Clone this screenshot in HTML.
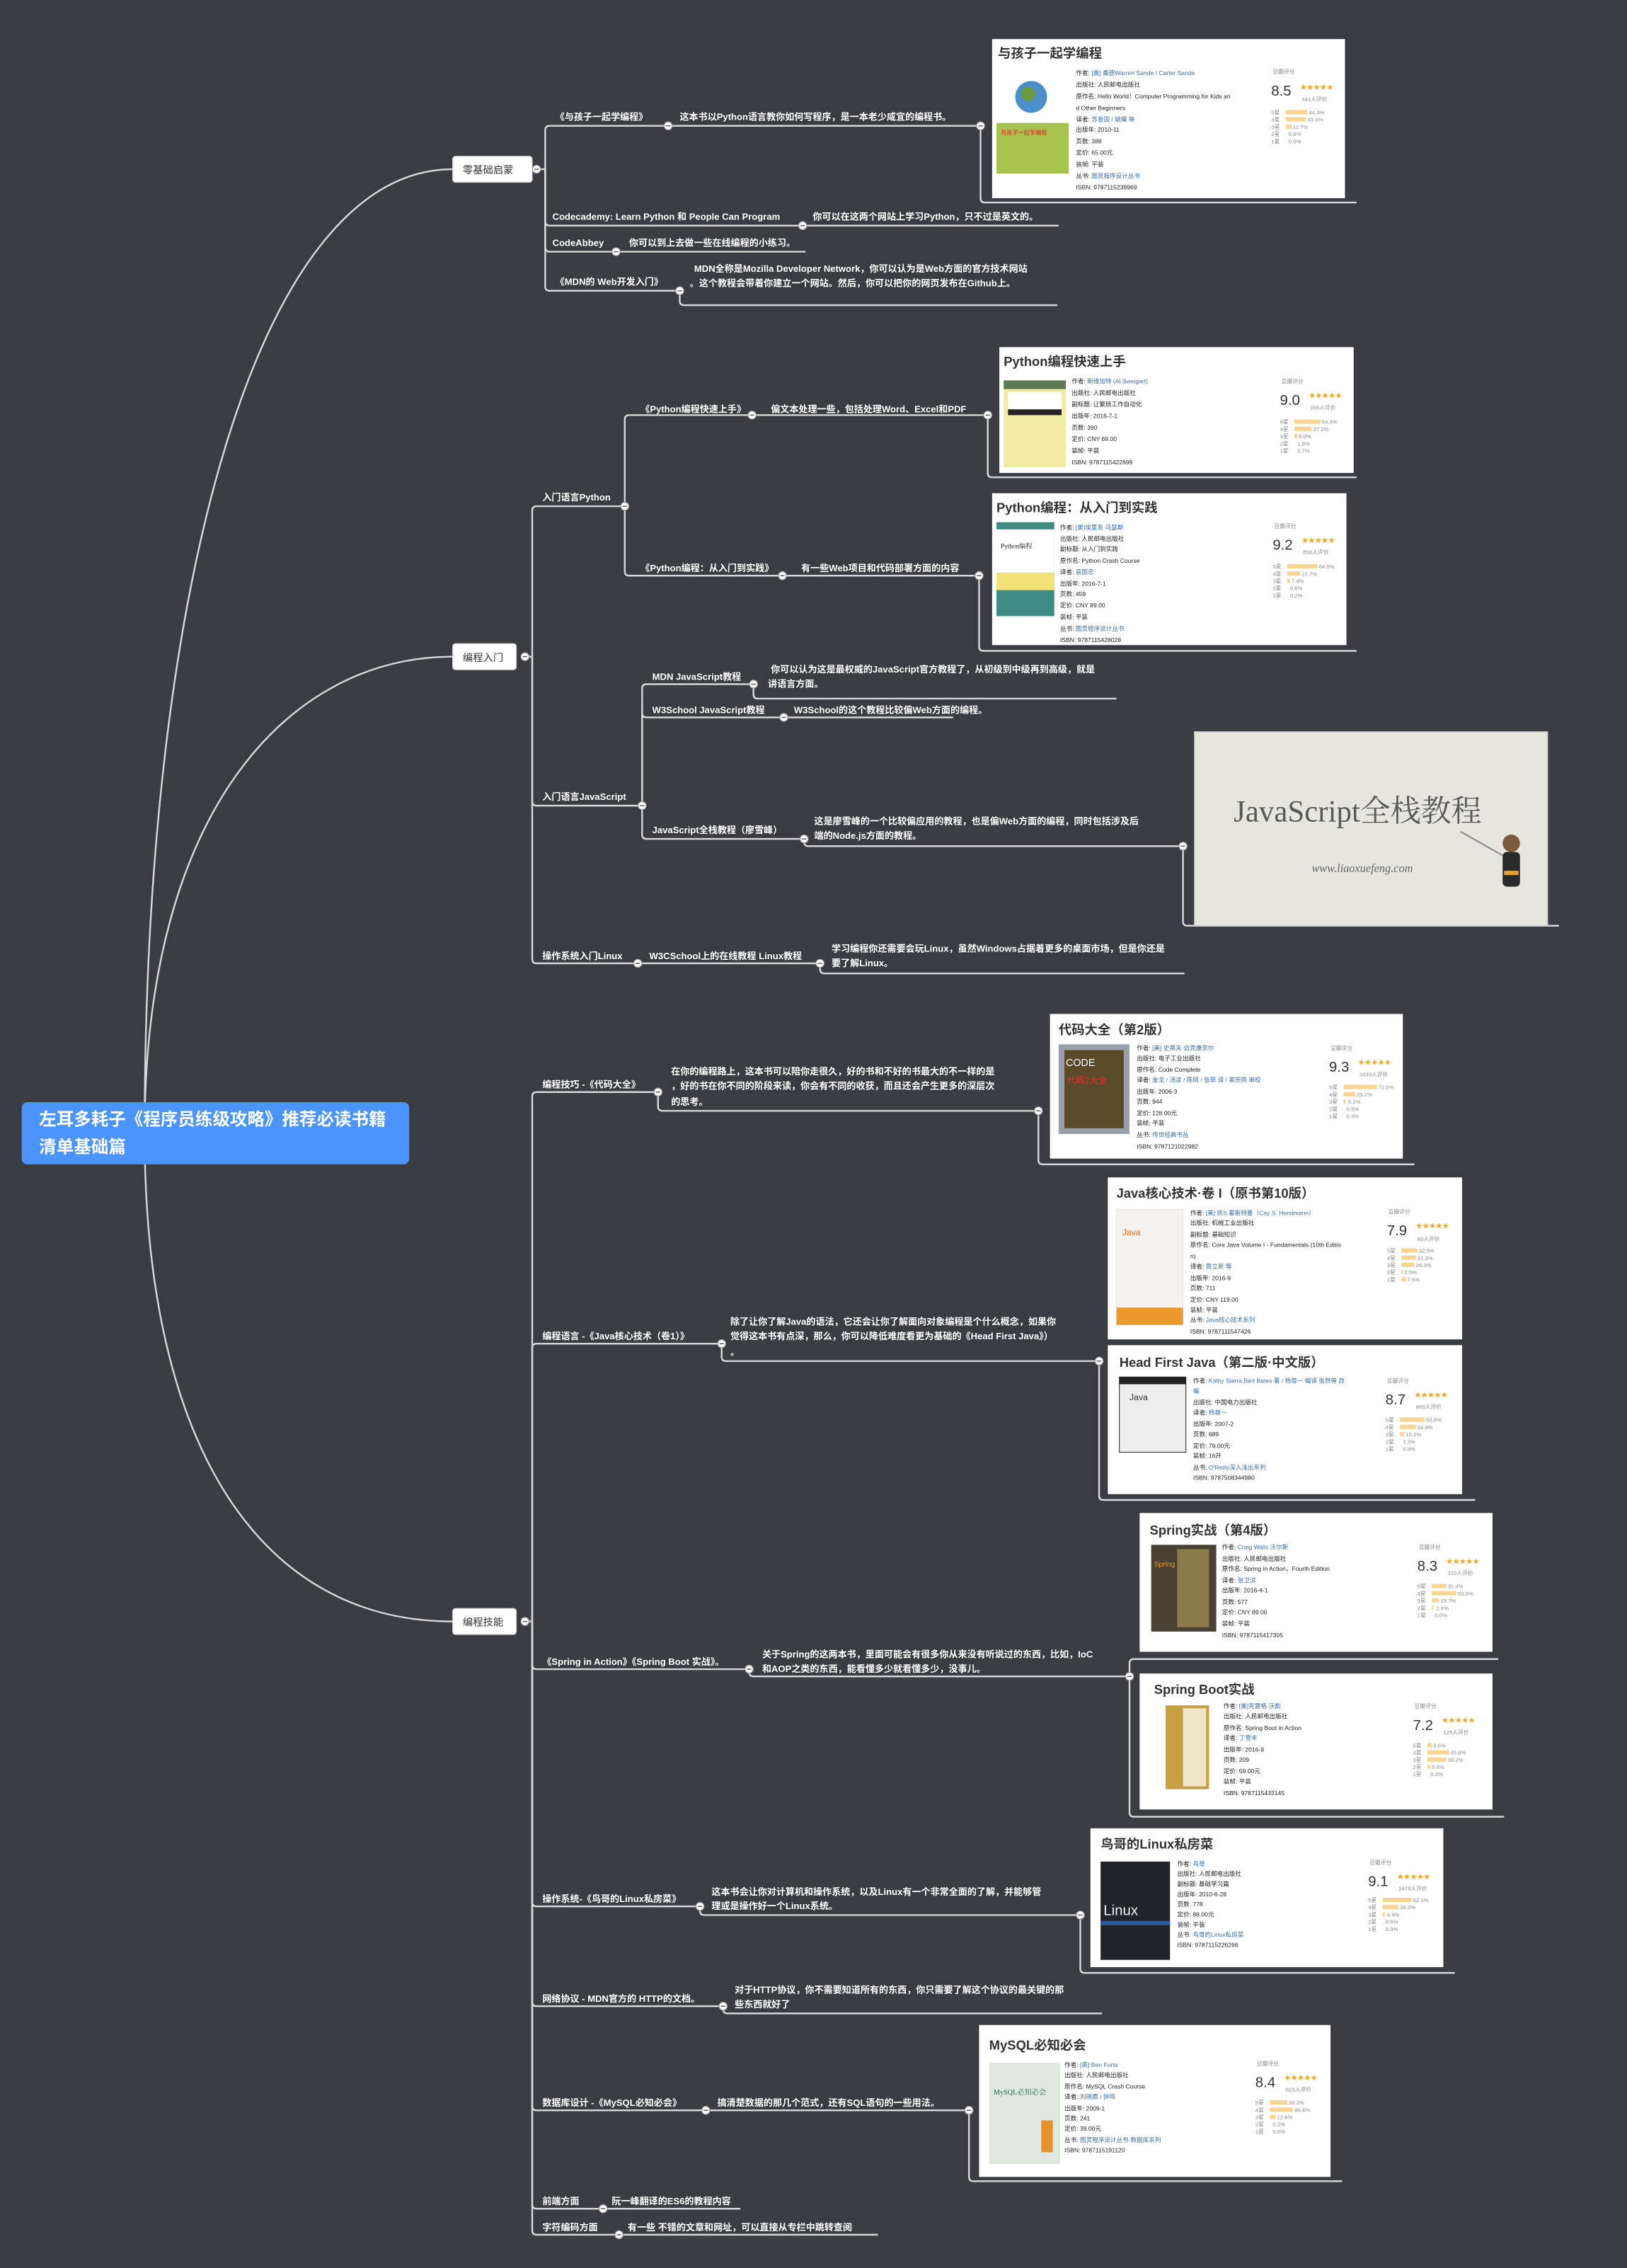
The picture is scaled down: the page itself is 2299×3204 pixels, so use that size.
<!DOCTYPE html>
<html><head><meta charset="utf-8">
<style>
html,body{margin:0;padding:0;background:#393c41;}
svg{display:block;}
text{font-family:"Liberation Sans","Noto Sans CJK SC",sans-serif;}
text.sf{font-family:"Liberation Serif","Noto Serif CJK SC",serif;}
.l{fill:#fff;font-size:6.4px;font-weight:bold;}
.ln{stroke:#d6d6d6;stroke-width:1.2;fill:none;}
.c{fill:#fff;stroke:#9a9a9a;stroke-width:0.6;}
.ct{font-size:9px;fill:#333;font-weight:bold;}
.i{font-size:4.2px;fill:#222;}
.b{fill:#3a6ea5;}
.g{font-size:3.8px;fill:#888;}
.s{font-size:10px;fill:#333;}
.st{font-size:4.6px;fill:#f5a623;}
.bar{fill:#f8d592;}
</style></head>
<body>
<svg width="2299" height="3204" viewBox="0 0 1125 1568" preserveAspectRatio="none" xmlns="http://www.w3.org/2000/svg">
<defs>
<g id="cb"><circle r="2.8" class="c"/><line x1="-1.5" x2="1.5" y1="0" y2="0" stroke="#555" stroke-width="0.7"/></g>
</defs>
<rect width="1125" height="1568" fill="#393c41"/>

<path class="ln" d="M100 783 C100 400,180 117,313 117"/>
<path class="ln" d="M100 783 C100 560,200 454,313 454"/>
<path class="ln" d="M100 783 C100 1000,180 1121,313 1121"/>

<rect x="15" y="762" width="268" height="43" rx="4" fill="#4a94fb"/>
<text x="27" y="778" fill="#fff" font-size="12" font-weight="bold">左耳多耗子《程序员练级攻略》推荐必读书籍</text>
<text x="27" y="797" fill="#fff" font-size="12" font-weight="bold">清单基础篇</text>

<!-- ===== Section 1 ===== -->
<path class="ln" d="M371 117 H377"/>
<path class="ln" d="M377 117 V90 Q377 87 380 87 H678"/>
<path class="ln" d="M377 117 V153 Q377 156 380 156 H732"/>
<path class="ln" d="M377 117 V171 Q377 174 380 174 H557"/>
<path class="ln" d="M377 117 V198 Q377 201 380 201 H470"/>
<path class="ln" d="M470 201 V208 Q470 211 473 211 H731"/>
<path class="ln" d="M678 87 V137 Q678 140 681 140 H938"/>
<rect x="313" y="108" width="55" height="18" rx="2" fill="#fff" stroke="#ccc" stroke-width="0.6"/>
<text x="320" y="120" font-size="7" fill="#333">零基础启蒙</text>
<use href="#cb" x="371" y="117"/>
<text x="384" y="83" class="l">《与孩子一起学编程》</text>
<text x="470" y="83" class="l">这本书以Python语言教你如何写程序，是一本老少咸宜的编程书。</text>
<use href="#cb" x="462" y="87"/><use href="#cb" x="678" y="87"/>
<text x="382" y="152" class="l">Codecademy: Learn Python 和 People Can Program</text>
<text x="562" y="152" class="l">你可以在这两个网站上学习Python，只不过是英文的。</text>
<use href="#cb" x="555" y="156"/>
<text x="382" y="170" class="l">CodeAbbey</text>
<text x="435" y="170" class="l">你可以到上去做一些在线编程的小练习。</text>
<use href="#cb" x="426" y="174"/>
<text x="384" y="197" class="l">《MDN的 Web开发入门》</text>
<text x="480" y="188" class="l">MDN全称是Mozilla Developer Network，你可以认为是Web方面的官方技术网站</text>
<text x="477" y="198" class="l">。这个教程会带着你建立一个网站。然后，你可以把你的网页发布在Github上。</text>
<use href="#cb" x="470" y="201"/>

<g transform="translate(686,27)">
<rect width="244" height="110" fill="#fff"/>
<text x="4" y="13" class="ct">与孩子一起学编程</text>
<circle cx="27" cy="40" r="11" fill="#4a8fc9"/><circle cx="25" cy="38" r="5" fill="#6a9a40"/>
<rect x="3" y="58" width="50" height="35" fill="#a7c24e"/>
<text x="6" y="66" font-size="4" fill="#d22">与孩子一起学编程</text>
<text x="58" y="25" class="i">作者: <tspan class="b">[美] 桑德Warren Sande / Carter Sande</tspan></text>
<text x="58" y="33" class="i">出版社: 人民邮电出版社</text>
<text x="58" y="41" class="i">原作名: Hello World！Computer Programming for Kids an</text>
<text x="58" y="49" class="i">d Other Beginners</text>
<text x="58" y="57" class="i">译者: <tspan class="b">苏金国 / 姚曜 等</tspan></text>
<text x="58" y="64" class="i">出版年: 2010-11</text>
<text x="58" y="72" class="i">页数: 388</text>
<text x="58" y="80" class="i">定价: 65.00元</text>
<text x="58" y="88" class="i">装帧: 平装</text>
<text x="58" y="96" class="i">丛书: <tspan class="b">图灵程序设计丛书</tspan></text>
<text x="58" y="104" class="i">ISBN: 9787115239969</text>
<text x="194" y="24" class="g">豆瓣评分</text>
<text x="193" y="39" class="s">8.5</text><text x="213" y="35" class="st">★★★★★</text>
<text x="214" y="43" class="g b">341人评价</text>
<text x="193" y="52" class="g">5星</text><rect x="203" y="49" width="15" height="3" class="bar"/><text x="219" y="52" class="g">44.3%</text>
<text x="193" y="57" class="g">4星</text><rect x="203" y="54" width="14" height="3" class="bar"/><text x="218" y="57" class="g">43.4%</text>
<text x="193" y="62" class="g">3星</text><rect x="203" y="59" width="4" height="3" class="bar"/><text x="208" y="62" class="g">11.7%</text>
<text x="193" y="67" class="g">2星</text><text x="205" y="67" class="g">0.6%</text>
<text x="193" y="72" class="g">1星</text><text x="205" y="72" class="g">0.0%</text>
</g>

<!-- ===== Section 2 ===== -->
<path class="ln" d="M363 454 H368"/>
<path class="ln" d="M368 454 V353 Q368 350 371 350 H432"/>
<path class="ln" d="M368 454 V554 Q368 557 371 557 H444"/>
<path class="ln" d="M368 454 V663 Q368 666 371 666 H567"/>
<path class="ln" d="M567 666 V670 Q567 673 570 673 H819"/>
<path class="ln" d="M432 350 V290 Q432 287 435 287 H683"/>
<path class="ln" d="M432 350 V395 Q432 398 435 398 H677"/>
<path class="ln" d="M683 287 V327 Q683 330 686 330 H938"/>
<path class="ln" d="M677 398 V447 Q677 450 680 450 H938"/>
<path class="ln" d="M444 557 V476 Q444 473 447 473 H521"/>
<path class="ln" d="M521 473 V480 Q521 483 524 483 H772"/>
<path class="ln" d="M444 557 V493 Q444 496 447 496 H659"/>
<path class="ln" d="M444 557 V577 Q444 580 447 580 H556"/>
<path class="ln" d="M556 580 V582 Q556 585 559 585 H818"/>
<path class="ln" d="M818 585 V637 Q818 640 821 640 H1078"/>
<rect x="313" y="445" width="44" height="18" rx="2" fill="#fff" stroke="#ccc" stroke-width="0.6"/>
<text x="320" y="457" font-size="7" fill="#333">编程入门</text>
<use href="#cb" x="363" y="454"/>
<text x="375" y="346" class="l">入门语言Python</text><use href="#cb" x="432" y="350"/>
<text x="443" y="285" class="l">《Python编程快速上手》</text><use href="#cb" x="520" y="287"/>
<text x="533" y="285" class="l">偏文本处理一些，包括处理Word、Excel和PDF</text><use href="#cb" x="683" y="287"/>
<text x="443" y="395" class="l">《Python编程：从入门到实践》</text><use href="#cb" x="541" y="398"/>
<text x="554" y="395" class="l">有一些Web项目和代码部署方面的内容</text><use href="#cb" x="677" y="398"/>
<text x="375" y="553" class="l">入门语言JavaScript</text><use href="#cb" x="444" y="557"/>
<text x="451" y="470" class="l">MDN JavaScript教程</text><use href="#cb" x="521" y="473"/>
<text x="533" y="465" class="l">你可以认为这是最权威的JavaScript官方教程了，从初级到中级再到高级，就是</text>
<text x="531" y="475" class="l">讲语言方面。</text>
<text x="451" y="493" class="l">W3School JavaScript教程</text><use href="#cb" x="542" y="496"/>
<text x="549" y="493" class="l">W3School的这个教程比较偏Web方面的编程。</text>
<text x="451" y="576" class="l">JavaScript全栈教程（廖雪峰）</text><use href="#cb" x="556" y="580"/>
<text x="563" y="570" class="l">这是廖雪峰的一个比较偏应用的教程，也是偏Web方面的编程，同时包括涉及后</text>
<text x="563" y="580" class="l">端的Node.js方面的教程。</text><use href="#cb" x="818" y="585"/>
<text x="375" y="663" class="l">操作系统入门Linux</text><use href="#cb" x="441" y="666"/>
<text x="449" y="663" class="l">W3CSchool上的在线教程 Linux教程</text><use href="#cb" x="567" y="666"/>
<text x="575" y="658" class="l">学习编程你还需要会玩Linux，虽然Windows占据着更多的桌面市场，但是你还是</text>
<text x="575" y="668" class="l">要了解Linux。</text>

<g transform="translate(691,240)">
<rect width="245" height="87" fill="#fff"/>
<text x="3" y="13" class="ct">Python编程快速上手</text>
<rect x="3" y="23" width="43" height="60" fill="#f1eba4"/><rect x="3" y="23" width="43" height="6" fill="#5d7a52"/><rect x="6" y="31" width="37" height="12" fill="#fff"/><rect x="6" y="43" width="37" height="4" fill="#222"/>
<text x="50" y="25" class="i">作者: <tspan class="b">斯维加特 (Al Sweigart)</tspan></text>
<text x="50" y="33" class="i">出版社: 人民邮电出版社</text>
<text x="50" y="41" class="i">副标题: 让繁琐工作自动化</text>
<text x="50" y="49" class="i">出版年: 2016-7-1</text>
<text x="50" y="57" class="i">页数: 390</text>
<text x="50" y="65" class="i">定价: CNY 69.00</text>
<text x="50" y="73" class="i">装帧: 平装</text>
<text x="50" y="81" class="i">ISBN: 9787115422699</text>
<text x="195" y="25" class="g">豆瓣评分</text>
<text x="194" y="40" class="s">9.0</text><text x="214" y="35" class="st">★★★★★</text>
<text x="215" y="43" class="g b">285人评价</text>
<text x="194" y="53" class="g">5星</text><rect x="204" y="50" width="18" height="3" class="bar"/><text x="223" y="53" class="g">54.4%</text>
<text x="194" y="58" class="g">4星</text><rect x="204" y="55" width="12" height="3" class="bar"/><text x="217" y="58" class="g">37.2%</text>
<text x="194" y="63" class="g">3星</text><rect x="204" y="60" width="2" height="3" class="bar"/><text x="207" y="63" class="g">6.0%</text>
<text x="194" y="68" class="g">2星</text><text x="206" y="68" class="g">1.8%</text>
<text x="194" y="73" class="g">1星</text><text x="206" y="73" class="g">0.7%</text>
</g>

<g transform="translate(686,341)">
<rect width="245" height="105" fill="#fff"/>
<text x="3" y="13" class="ct">Python编程：从入门到实践</text>
<rect x="3" y="20" width="40" height="65" fill="#3f8c84"/><rect x="3" y="25" width="40" height="30" fill="#fff"/><rect x="3" y="55" width="40" height="12" fill="#f2e27a"/>
<text x="6" y="38" font-size="4.5" fill="#222" class="sf">Python编程</text>
<text x="47" y="25" class="i">作者: <tspan class="b">[美]埃里克·马瑟斯</tspan></text>
<text x="47" y="33" class="i">出版社: 人民邮电出版社</text>
<text x="47" y="40" class="i">副标题: 从入门到实践</text>
<text x="47" y="48" class="i">原作名: Python Crash Course</text>
<text x="47" y="56" class="i">译者: <tspan class="b">袁国忠</tspan></text>
<text x="47" y="64" class="i">出版年: 2016-7-1</text>
<text x="47" y="71" class="i">页数: 459</text>
<text x="47" y="79" class="i">定价: CNY 89.00</text>
<text x="47" y="87" class="i">装帧: 平装</text>
<text x="47" y="95" class="i">丛书: <tspan class="b">图灵程序设计丛书</tspan></text>
<text x="47" y="103" class="i">ISBN: 9787115428028</text>
<text x="195" y="24" class="g">豆瓣评分</text>
<text x="194" y="39" class="s">9.2</text><text x="214" y="34" class="st">★★★★★</text>
<text x="215" y="42" class="g b">858人评价</text>
<text x="194" y="52" class="g">5星</text><rect x="204" y="49" width="21" height="3" class="bar"/><text x="226" y="52" class="g">64.0%</text>
<text x="194" y="57" class="g">4星</text><rect x="204" y="54" width="9" height="3" class="bar"/><text x="214" y="57" class="g">27.7%</text>
<text x="194" y="62" class="g">3星</text><rect x="204" y="59" width="2" height="3" class="bar"/><text x="207" y="62" class="g">7.4%</text>
<text x="194" y="67" class="g">2星</text><text x="206" y="67" class="g">0.8%</text>
<text x="194" y="72" class="g">1星</text><text x="206" y="72" class="g">0.2%</text>
</g>

<rect x="826" y="506" width="244" height="134" fill="#e7e6dd" stroke="#c9d0cf" stroke-width="0.8"/>
<text x="853" y="568" class="sf" font-size="21" fill="#5a5a55">JavaScript全栈教程</text>
<text x="907" y="603" class="sf" font-style="italic" font-size="8" fill="#666">www.liaoxuefeng.com</text>
<line x1="1010" y1="575" x2="1040" y2="592" stroke="#888" stroke-width="1"/>
<circle cx="1045" cy="583" r="6" fill="#7a5a3a"/><rect x="1039" y="589" width="12" height="24" rx="3" fill="#2a2a2a"/><rect x="1040" y="602" width="10" height="3" fill="#e8a030"/>

<!-- ===== Section 3 ===== -->
<path class="ln" d="M363 1121 H368"/>
<path class="ln" d="M368 1121 V758 Q368 755 371 755 H455"/>
<path class="ln" d="M455 755 V765 Q455 768 458 768 H718"/>
<path class="ln" d="M718 768 V802 Q718 805 721 805 H978"/>
<path class="ln" d="M368 1121 V932 Q368 929 371 929 H499"/>
<path class="ln" d="M499 929 V938 Q499 941 502 941 H760"/>
<path class="ln" d="M760 941 V1034 Q760 1037 763 1037 H1020"/>
<path class="ln" d="M368 1121 V1151 Q368 1154 371 1154 H518"/>
<path class="ln" d="M518 1154 V1156 Q518 1159 521 1159 H781"/>
<path class="ln" d="M781 1159 V1150 Q781 1147 784 1147 H1036"/>
<path class="ln" d="M781 1159 V1253 Q781 1256 784 1256 H1040"/>
<path class="ln" d="M368 1121 V1315 Q368 1318 371 1318 H484"/>
<path class="ln" d="M484 1318 V1321 Q484 1324 487 1324 H747"/>
<path class="ln" d="M747 1324 V1361 Q747 1364 750 1364 H1006"/>
<path class="ln" d="M368 1121 V1384 Q368 1387 371 1387 H500"/>
<path class="ln" d="M500 1387 V1389 Q500 1392 503 1392 H762"/>
<path class="ln" d="M368 1121 V1456 Q368 1459 371 1459 H670"/>
<path class="ln" d="M670 1459 V1505 Q670 1508 673 1508 H928"/>
<path class="ln" d="M368 1121 V1524 Q368 1527 371 1527 H512"/>
<path class="ln" d="M368 1121 V1542 Q368 1545 371 1545 H607"/>
<rect x="313" y="1112" width="44" height="18" rx="2" fill="#fff" stroke="#ccc" stroke-width="0.6"/>
<text x="320" y="1124" font-size="7" fill="#333">编程技能</text>
<use href="#cb" x="363" y="1121"/>
<text x="375" y="752" class="l">编程技巧 -《代码大全》</text><use href="#cb" x="455" y="755"/>
<text x="464" y="743" class="l">在你的编程路上，这本书可以陪你走很久，好的书和不好的书最大的不一样的是</text>
<text x="464" y="753" class="l">，好的书在你不同的阶段来读，你会有不同的收获，而且还会产生更多的深层次</text>
<text x="464" y="764" class="l">的思考。</text><use href="#cb" x="718" y="768"/>
<text x="375" y="926" class="l">编程语言 -《Java核心技术（卷1）》</text><use href="#cb" x="499" y="929"/>
<text x="505" y="916" class="l">除了让你了解Java的语法，它还会让你了解面向对象编程是个什么概念，如果你</text>
<text x="505" y="926" class="l">觉得这本书有点深，那么，你可以降低难度看更为基础的《Head First Java》）</text>
<text x="505" y="937" class="l">。</text><use href="#cb" x="760" y="941"/>
<text x="375" y="1151" class="l">《Spring in Action》《Spring Boot 实战》。</text><use href="#cb" x="518" y="1154"/>
<text x="527" y="1146" class="l">关于Spring的这两本书，里面可能会有很多你从来没有听说过的东西，比如，IoC</text>
<text x="527" y="1156" class="l">和AOP之类的东西，能看懂多少就看懂多少，没事儿。</text><use href="#cb" x="781" y="1159"/>
<text x="375" y="1315" class="l">操作系统-《鸟哥的Linux私房菜》</text><use href="#cb" x="484" y="1318"/>
<text x="492" y="1310" class="l">这本书会让你对计算机和操作系统，以及Linux有一个非常全面的了解，并能够管</text>
<text x="492" y="1320" class="l">理或是操作好一个Linux系统。</text><use href="#cb" x="747" y="1324"/>
<text x="375" y="1384" class="l">网络协议 - MDN官方的 HTTP的文档。</text><use href="#cb" x="500" y="1387"/>
<text x="508" y="1378" class="l">对于HTTP协议，你不需要知道所有的东西，你只需要了解这个协议的最关键的那</text>
<text x="508" y="1388" class="l">些东西就好了</text>
<text x="375" y="1456" class="l">数据库设计 -《MySQL必知必会》</text><use href="#cb" x="488" y="1459"/>
<text x="496" y="1456" class="l">搞清楚数据的那几个范式，还有SQL语句的一些用法。</text><use href="#cb" x="670" y="1459"/>
<text x="375" y="1524" class="l">前端方面</text><use href="#cb" x="417" y="1527"/>
<text x="423" y="1524" class="l">阮一峰翻译的ES6的教程内容</text>
<text x="375" y="1542" class="l">字符编码方面</text><use href="#cb" x="428" y="1545"/>
<text x="434" y="1542" class="l">有一些 不错的文章和网址，可以直接从专栏中跳转查阅</text>

<g transform="translate(726,701)">
<rect width="244" height="100" fill="#fff"/>
<text x="6" y="14" class="ct">代码大全（第2版）</text>
<rect x="6" y="21" width="49" height="62" fill="#9aa0a8"/><rect x="10" y="25" width="41" height="54" fill="#5a4a2a"/>
<text x="11" y="36" font-size="7" fill="#fff">CODE</text><text x="12" y="48" font-size="6" fill="#e33">代码2大全</text>
<text x="60" y="25" class="i">作者: <tspan class="b">[美] 史蒂夫·迈克康奈尔</tspan></text>
<text x="60" y="32" class="i">出版社: 电子工业出版社</text>
<text x="60" y="40" class="i">原作名: Code Complete</text>
<text x="60" y="47" class="i">译者: <tspan class="b">金戈 / 汤凌 / 陈硕 / 张菲 译 / 裘宗燕 审校</tspan></text>
<text x="60" y="55" class="i">出版年: 2006-3</text>
<text x="60" y="62" class="i">页数: 944</text>
<text x="60" y="70" class="i">定价: 128.00元</text>
<text x="60" y="77" class="i">装帧: 平装</text>
<text x="60" y="85" class="i">丛书: <tspan class="b">传世经典书丛</tspan></text>
<text x="60" y="93" class="i">ISBN: 9787121022982</text>
<text x="194" y="25" class="g">豆瓣评分</text>
<text x="193" y="40" class="s">9.3</text><text x="213" y="35" class="st">★★★★★</text>
<text x="214" y="43" class="g b">3439人评价</text>
<text x="193" y="52" class="g">5星</text><rect x="203" y="49" width="23" height="3" class="bar"/><text x="227" y="52" class="g">71.0%</text>
<text x="193" y="57" class="g">4星</text><rect x="203" y="54" width="8" height="3" class="bar"/><text x="212" y="57" class="g">23.1%</text>
<text x="193" y="62" class="g">3星</text><rect x="203" y="59" width="1.5" height="3" class="bar"/><text x="206" y="62" class="g">5.1%</text>
<text x="193" y="67" class="g">2星</text><text x="205" y="67" class="g">0.5%</text>
<text x="193" y="72" class="g">1星</text><text x="205" y="72" class="g">0.3%</text>
</g>

<g transform="translate(766,814)">
<rect width="245" height="112" fill="#fff"/>
<text x="6" y="14" class="ct">Java核心技术·卷 I（原书第10版）</text>
<rect x="6" y="22" width="46" height="80" fill="#f6f3ee" stroke="#ddd" stroke-width="0.4"/><rect x="6" y="90" width="46" height="12" fill="#e99a2a"/>
<text x="10" y="40" font-size="6" fill="#e07020">Java</text>
<text x="57" y="26" class="i">作者: <tspan class="b">[美] 凯S.霍斯特曼（Cay S. Horstmann）</tspan></text>
<text x="57" y="33" class="i">出版社: 机械工业出版社</text>
<text x="57" y="41" class="i">副标题: 基础知识</text>
<text x="57" y="48" class="i">原作名: Core Java Volume I - Fundamentals (10th Editio</text>
<text x="57" y="56" class="i">n)</text>
<text x="57" y="63" class="i">译者: <tspan class="b">周立新 等</tspan></text>
<text x="57" y="71" class="i">出版年: 2016-9</text>
<text x="57" y="78" class="i">页数: 711</text>
<text x="57" y="86" class="i">定价: CNY 119.00</text>
<text x="57" y="93" class="i">装帧: 平装</text>
<text x="57" y="100" class="i">丛书: <tspan class="b">Java核心技术系列</tspan></text>
<text x="57" y="108" class="i">ISBN: 9787111547426</text>
<text x="194" y="25" class="g">豆瓣评分</text>
<text x="193" y="40" class="s">7.9</text><text x="213" y="35" class="st">★★★★★</text>
<text x="214" y="44" class="g b">80人评价</text>
<text x="193" y="52" class="g">5星</text><rect x="203" y="49" width="11" height="3" class="bar"/><text x="215" y="52" class="g">32.5%</text>
<text x="193" y="57" class="g">4星</text><rect x="203" y="54" width="10" height="3" class="bar"/><text x="214" y="57" class="g">31.3%</text>
<text x="193" y="62" class="g">3星</text><rect x="203" y="59" width="9" height="3" class="bar"/><text x="213" y="62" class="g">26.3%</text>
<text x="193" y="67" class="g">2星</text><rect x="203" y="64" width="1" height="3" class="bar"/><text x="205" y="67" class="g">2.5%</text>
<text x="193" y="72" class="g">1星</text><rect x="203" y="69" width="3" height="3" class="bar"/><text x="207" y="72" class="g">7.5%</text>
</g>

<g transform="translate(766,930)">
<rect width="245" height="103" fill="#fff"/>
<text x="8" y="15" class="ct">Head First Java（第二版·中文版）</text>
<rect x="8" y="22" width="46" height="52" fill="#eee" stroke="#222" stroke-width="0.5"/><rect x="8" y="22" width="46" height="5" fill="#222"/>
<text x="15" y="38" font-size="6" fill="#333">Java</text>
<text x="59" y="26" class="i">作者: <tspan class="b">Kathy Sierra,Bert Bates 著 / 杨尊一 编译 张然等 改</tspan></text>
<text x="59" y="33" class="i b">编</text>
<text x="59" y="41" class="i">出版社: 中国电力出版社</text>
<text x="59" y="48" class="i">译者: <tspan class="b">杨尊一</tspan></text>
<text x="59" y="56" class="i">出版年: 2007-2</text>
<text x="59" y="63" class="i">页数: 689</text>
<text x="59" y="71" class="i">定价: 79.00元</text>
<text x="59" y="78" class="i">装帧: 16开</text>
<text x="59" y="86" class="i">丛书: <tspan class="b">O'Reilly深入浅出系列</tspan></text>
<text x="59" y="93" class="i">ISBN: 9787508344980</text>
<text x="193" y="26" class="g">豆瓣评分</text>
<text x="192" y="41" class="s">8.7</text><text x="212" y="36" class="st">★★★★★</text>
<text x="213" y="44" class="g b">869人评价</text>
<text x="192" y="53" class="g">5星</text><rect x="202" y="50" width="17" height="3" class="bar"/><text x="220" y="53" class="g">50.8%</text>
<text x="192" y="58" class="g">4星</text><rect x="202" y="55" width="11" height="3" class="bar"/><text x="214" y="58" class="g">34.9%</text>
<text x="192" y="63" class="g">3星</text><rect x="202" y="60" width="3" height="3" class="bar"/><text x="206" y="63" class="g">10.2%</text>
<text x="192" y="68" class="g">2星</text><text x="204" y="68" class="g">1.3%</text>
<text x="192" y="73" class="g">1星</text><text x="204" y="73" class="g">0.8%</text>
</g>

<g transform="translate(788,1046)">
<rect width="244" height="96" fill="#fff"/>
<text x="7" y="15" class="ct">Spring实战（第4版）</text>
<rect x="8" y="22" width="45" height="60" fill="#4a4034"/><rect x="26" y="25" width="22" height="54" fill="#8a7a4a"/>
<text x="10" y="37" font-size="5" fill="#f0a020">Spring</text>
<text x="57" y="25" class="i">作者: <tspan class="b">Craig Walls 沃尔斯</tspan></text>
<text x="57" y="33" class="i">出版社: 人民邮电出版社</text>
<text x="57" y="40" class="i">原作名: Spring in Action，Fourth Edition</text>
<text x="57" y="48" class="i">译者: <tspan class="b">张卫滨</tspan></text>
<text x="57" y="55" class="i">出版年: 2016-4-1</text>
<text x="57" y="63" class="i">页数: 577</text>
<text x="57" y="70" class="i">定价: CNY 89.00</text>
<text x="57" y="78" class="i">装帧: 平装</text>
<text x="57" y="86" class="i">ISBN: 9787115417305</text>
<text x="193" y="25" class="g">豆瓣评分</text>
<text x="192" y="40" class="s">8.3</text><text x="212" y="35" class="st">★★★★★</text>
<text x="213" y="43" class="g b">210人评价</text>
<text x="192" y="52" class="g">5星</text><rect x="202" y="49" width="10" height="3" class="bar"/><text x="213" y="52" class="g">31.4%</text>
<text x="192" y="57" class="g">4星</text><rect x="202" y="54" width="17" height="3" class="bar"/><text x="220" y="57" class="g">50.5%</text>
<text x="192" y="62" class="g">3星</text><rect x="202" y="59" width="5" height="3" class="bar"/><text x="208" y="62" class="g">15.7%</text>
<text x="192" y="67" class="g">2星</text><rect x="202" y="64" width="1" height="3" class="bar"/><text x="205" y="67" class="g">2.4%</text>
<text x="192" y="72" class="g">1星</text><text x="204" y="72" class="g">0.0%</text>
</g>

<g transform="translate(788,1157)">
<rect width="244" height="94" fill="#fff"/>
<text x="10" y="14" class="ct">Spring Boot实战</text>
<rect x="18" y="22" width="30" height="58" fill="#c8a040"/><rect x="30" y="24" width="16" height="54" fill="#efe6cc"/>
<text x="58" y="24" class="i">作者: <tspan class="b">[美]克雷格·沃斯</tspan></text>
<text x="58" y="31" class="i">出版社: 人民邮电出版社</text>
<text x="58" y="39" class="i">原作名: Spring Boot in Action</text>
<text x="58" y="46" class="i">译者: <tspan class="b">丁雪丰</tspan></text>
<text x="58" y="54" class="i">出版年: 2016-9</text>
<text x="58" y="61" class="i">页数: 209</text>
<text x="58" y="69" class="i">定价: 59.00元</text>
<text x="58" y="76" class="i">装帧: 平装</text>
<text x="58" y="84" class="i">ISBN: 9787115433145</text>
<text x="190" y="24" class="g">豆瓣评分</text>
<text x="189" y="39" class="s">7.2</text><text x="209" y="34" class="st">★★★★★</text>
<text x="210" y="42" class="g b">125人评价</text>
<text x="189" y="51" class="g">5星</text><rect x="199" y="48" width="3" height="3" class="bar"/><text x="203" y="51" class="g">9.6%</text>
<text x="189" y="56" class="g">4星</text><rect x="199" y="53" width="15" height="3" class="bar"/><text x="215" y="56" class="g">45.6%</text>
<text x="189" y="61" class="g">3星</text><rect x="199" y="58" width="13" height="3" class="bar"/><text x="213" y="61" class="g">39.2%</text>
<text x="189" y="66" class="g">2星</text><rect x="199" y="63" width="2" height="3" class="bar"/><text x="202" y="66" class="g">5.6%</text>
<text x="189" y="71" class="g">1星</text><text x="201" y="71" class="g">0.0%</text>
</g>

<g transform="translate(754,1264)">
<rect width="244" height="96" fill="#fff"/>
<text x="7" y="14" class="ct">鸟哥的Linux私房菜</text>
<rect x="7" y="23" width="48" height="68" fill="#202428"/><rect x="7" y="64" width="48" height="3" fill="#2a5aa0"/>
<text x="9" y="60" font-size="10" fill="#eee">Linux</text>
<text x="60" y="26" class="i">作者: <tspan class="b">鸟哥</tspan></text>
<text x="60" y="33" class="i">出版社: 人民邮电出版社</text>
<text x="60" y="40" class="i">副标题: 基础学习篇</text>
<text x="60" y="47" class="i">出版年: 2010-6-28</text>
<text x="60" y="54" class="i">页数: 778</text>
<text x="60" y="61" class="i">定价: 88.00元</text>
<text x="60" y="68" class="i">装帧: 平装</text>
<text x="60" y="75" class="i">丛书: <tspan class="b">鸟哥的Linux私房菜</tspan></text>
<text x="60" y="82" class="i">ISBN: 9787115226266</text>
<text x="193" y="25" class="g">豆瓣评分</text>
<text x="192" y="40" class="s">9.1</text><text x="212" y="35" class="st">★★★★★</text>
<text x="213" y="43" class="g b">2479人评价</text>
<text x="192" y="51" class="g">5星</text><rect x="202" y="48" width="20" height="3" class="bar"/><text x="223" y="51" class="g">62.1%</text>
<text x="192" y="56" class="g">4星</text><rect x="202" y="53" width="11" height="3" class="bar"/><text x="214" y="56" class="g">32.2%</text>
<text x="192" y="61" class="g">3星</text><rect x="202" y="58" width="1.5" height="3" class="bar"/><text x="205" y="61" class="g">4.9%</text>
<text x="192" y="66" class="g">2星</text><text x="204" y="66" class="g">0.5%</text>
<text x="192" y="71" class="g">1星</text><text x="204" y="71" class="g">0.3%</text>
</g>

<g transform="translate(677,1400)">
<rect width="243" height="105" fill="#fff"/>
<text x="7" y="17" class="ct">MySQL必知必会</text>
<rect x="7" y="26" width="49" height="70" fill="#dfe8df"/><rect x="43" y="66" width="8" height="22" fill="#e8902a"/>
<text x="10" y="48" font-size="5" fill="#2a6a4a" class="sf">MySQL必知必会</text>
<text x="59" y="29" class="i">作者: <tspan class="b">[英] Ben Forta</tspan></text>
<text x="59" y="36" class="i">出版社: 人民邮电出版社</text>
<text x="59" y="44" class="i">原作名: MySQL Crash Course</text>
<text x="59" y="51" class="i">译者: <tspan class="b">刘晓霞 / 钟鸣</tspan></text>
<text x="59" y="59" class="i">出版年: 2009-1</text>
<text x="59" y="66" class="i">页数: 241</text>
<text x="59" y="73" class="i">定价: 39.00元</text>
<text x="59" y="81" class="i">丛书: <tspan class="b">图灵程序设计丛书·数据库系列</tspan></text>
<text x="59" y="88" class="i">ISBN: 9787115191120</text>
<text x="192" y="28" class="g">豆瓣评分</text>
<text x="191" y="43" class="s">8.4</text><text x="211" y="38" class="st">★★★★★</text>
<text x="212" y="46" class="g b">823人评价</text>
<text x="191" y="55" class="g">5星</text><rect x="201" y="52" width="12" height="3" class="bar"/><text x="214" y="55" class="g">38.2%</text>
<text x="191" y="60" class="g">4星</text><rect x="201" y="57" width="16" height="3" class="bar"/><text x="218" y="60" class="g">48.4%</text>
<text x="191" y="65" class="g">3星</text><rect x="201" y="62" width="4" height="3" class="bar"/><text x="206" y="65" class="g">12.6%</text>
<text x="191" y="70" class="g">2星</text><text x="203" y="70" class="g">0.2%</text>
<text x="191" y="75" class="g">1星</text><text x="203" y="75" class="g">0.6%</text>
</g>
</svg>
</body></html>
